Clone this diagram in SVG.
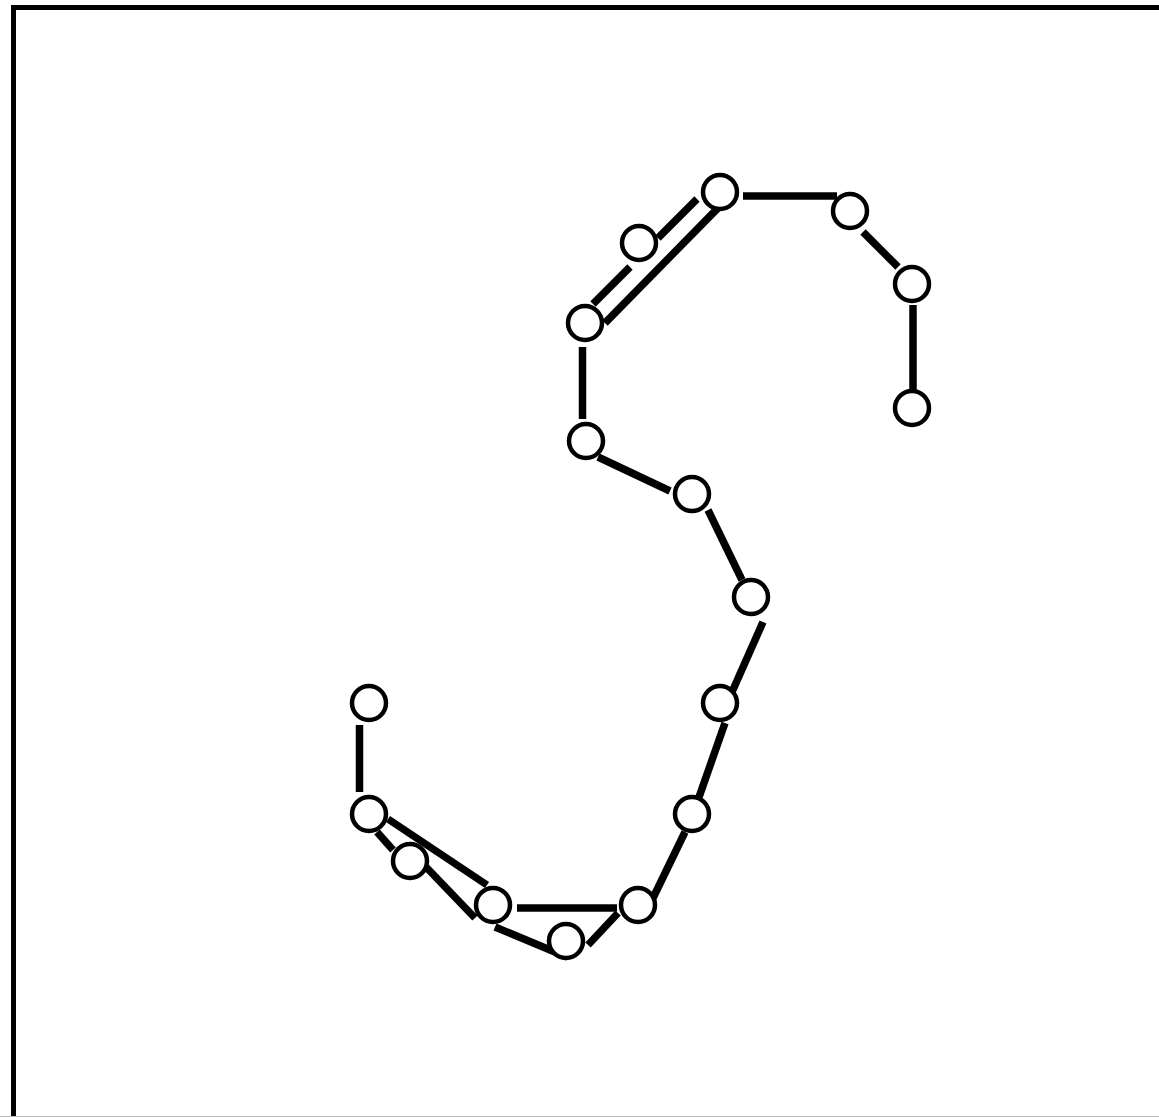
<svg xmlns="http://www.w3.org/2000/svg" width="1159" height="1117" viewBox="0 0 1159 1117">
<style>
.frame{fill:none;stroke:#000;stroke-width:5}
.edge{stroke:#000;stroke-width:7.5;stroke-linecap:butt;fill:none}
.node{fill:#fff;stroke:#000;stroke-width:4.5}
</style>
<rect width="1159" height="1117" fill="#fff"/>
<rect class="frame" x="13.5" y="7.5" width="1300" height="1300"/>
<line x1="0" y1="1116.5" x2="1159" y2="1116.5" stroke="#bbb" stroke-width="1"/>
<g id="edges">
<line class="edge" x1="743" y1="196" x2="837" y2="196"/>
<line class="edge" x1="863" y1="232" x2="898" y2="267"/>
<line class="edge" x1="913" y1="305" x2="913" y2="390"/>
<line class="edge" x1="697" y1="199" x2="658" y2="238"/>
<line class="edge" x1="630" y1="267" x2="593" y2="304"/>
<line class="edge" x1="718" y1="208" x2="605" y2="323"/>
<line class="edge" x1="582.5" y1="347" x2="582.5" y2="419"/>
<line class="edge" x1="598" y1="457" x2="670" y2="491"/>
<line class="edge" x1="708" y1="510" x2="742" y2="580"/>
<line class="edge" x1="763" y1="622" x2="732" y2="692"/>
<line class="edge" x1="725" y1="723" x2="698" y2="800"/>
<line class="edge" x1="685" y1="832" x2="653" y2="898"/>
<line class="edge" x1="618" y1="913" x2="588" y2="945"/>
<line class="edge" x1="517" y1="908" x2="617" y2="908"/>
<line class="edge" x1="495" y1="927" x2="567" y2="957"/>
<line class="edge" x1="426" y1="867" x2="475" y2="918"/>
<line class="edge" x1="388" y1="819" x2="487" y2="885"/>
<line class="edge" x1="377" y1="832" x2="393" y2="850"/>
<line class="edge" x1="359.5" y1="725" x2="359.5" y2="792"/>
</g>
<g id="n1"><circle class="node" cx="720" cy="192" r="17"/></g>
<g id="n2"><circle class="node" cx="850" cy="211" r="17"/></g>
<g id="n3"><circle class="node" cx="912" cy="284" r="17"/></g>
<g id="n4"><circle class="node" cx="912" cy="408" r="17"/></g>
<g id="n5"><circle class="node" cx="639" cy="243" r="17"/></g>
<g id="n6"><circle class="node" cx="585" cy="323" r="17"/></g>
<g id="n7"><circle class="node" cx="586" cy="441" r="17"/></g>
<g id="n8"><circle class="node" cx="692" cy="494" r="17"/></g>
<g id="n9"><circle class="node" cx="751" cy="597" r="17"/></g>
<g id="n10"><circle class="node" cx="720" cy="703" r="17"/></g>
<g id="n11"><circle class="node" cx="692" cy="814" r="17"/></g>
<g id="n12"><circle class="node" cx="638" cy="905" r="17"/></g>
<g id="n13"><circle class="node" cx="566" cy="941" r="17"/></g>
<g id="n14"><circle class="node" cx="493" cy="905" r="17"/></g>
<g id="n15"><circle class="node" cx="410" cy="861" r="17"/></g>
<g id="n16"><circle class="node" cx="369" cy="814" r="17"/></g>
<g id="n17"><circle class="node" cx="369" cy="703" r="17"/></g>
</svg>
